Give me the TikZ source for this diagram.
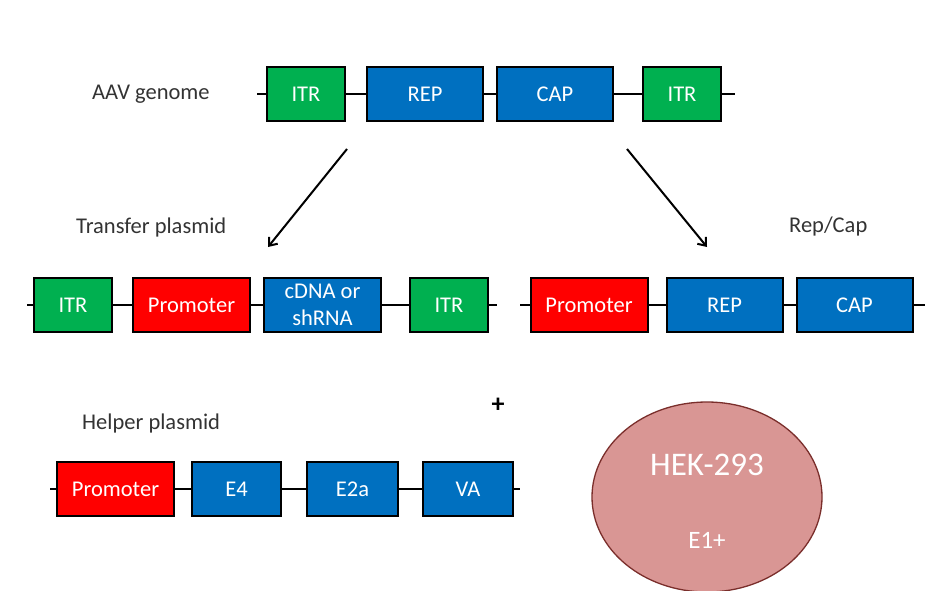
\documentclass[tikz,border=0pt]{standalone}
\usepackage{fontspec}
\setmainfont{Carlito}
\usetikzlibrary{positioning,shapes.geometric,arrows.meta}

\definecolor{itrgreen}{HTML}{00B050}
\definecolor{geneblue}{HTML}{0070C0}
\definecolor{promred}{HTML}{FF0000}
\definecolor{cellpink}{HTML}{D99694}
\definecolor{cellrim}{HTML}{7A2E2B}

\tikzset{
	genebox/.style={draw=black, line width=2pt, minimum height=54pt,
		inner sep=0pt, outer sep=0pt, text=white, align=center,
		font=\fontsize{22.5}{27}\selectfont},
	itrbox/.style={genebox, fill=itrgreen, minimum width=78pt},
	bluebox/.style={genebox, fill=geneblue, minimum width=116pt},
	prombox/.style={genebox, fill=promred, minimum width=117pt},
	backbone/.style={line width=2.2pt},
	title/.style={anchor=west, text=black!80, inner sep=0pt,
		font=\fontsize{22.5}{26}\selectfont}
}

\begin{document}
\begin{tikzpicture}[x=1pt,y=-1pt,>={Straight Barb[length=7pt,width=11pt]}]
		\useasboundingbox (0,0) rectangle (932,591);

		% AAV genome
		\node[title] (aavlabel) at (92,94) {AAV genome};
		\node[itrbox] (itrA) at (306,94) {ITR};
		\node[bluebox, right=22pt of itrA] (repA) {REP};
		\node[bluebox, right=14pt of repA] (capA) {CAP};
		\node[itrbox, right=30pt of capA] (itrB) {ITR};
		\coordinate (aavstart) at (257,94);
		\coordinate (aavend) at (735,94);
		\draw[backbone] (aavstart) -- (itrA) -- (repA) -- (capA) -- (itrB) -- (aavend);

		% arrows
		\coordinate (arrLfrom) at (347,149);
		\coordinate (arrLto) at (268,247);
		\coordinate (arrRfrom) at (627,149);
		\coordinate (arrRto) at (707,247);
		\draw[->, line width=2pt] (arrLfrom) -- (arrLto);
		\draw[->, line width=2pt] (arrRfrom) -- (arrRto);

		% transfer plasmid
		\node[title] (translabel) at (76,228) {Transfer plasmid};
		\node[itrbox] (itrC) at (73,305) {ITR};
		\node[prombox, right=21pt of itrC] (promC) {Promoter};
		\node[bluebox, minimum width=117pt, right=14pt of promC] (cdna) {cDNA or\\shRNA};
		\node[itrbox, right=29pt of cdna] (itrD) {ITR};
		\coordinate (transstart) at (27,305);
		\coordinate (transend) at (497,305);
		\draw[backbone] (transstart) -- (itrC) -- (promC) -- (cdna) -- (itrD) -- (transend);

		% rep/cap plasmid
		\node[title] (replabel) at (789,227) {Rep/Cap};
		\node[prombox] (promR) at (589,305) {Promoter};
		\node[bluebox, right=19pt of promR] (repR) {REP};
		\node[bluebox, right=14pt of repR] (capR) {CAP};
		\coordinate (repstart) at (520,305);
		\coordinate (repend) at (925,305);
		\draw[backbone] (repstart) -- (promR) -- (repR) -- (capR) -- (repend);

		% helper plasmid
		\node[title] (helplabel) at (82,423) {Helper plasmid};
		\node[prombox] (promH) at (115.5,489) {Promoter};
		\node[bluebox, minimum width=89pt, right=18pt of promH] (efour) {E4};
		\node[bluebox, minimum width=91pt, right=26pt of efour] (etwoa) {E2a};
		\node[bluebox, minimum width=90pt, right=25pt of etwoa] (va) {VA};
		\coordinate (helpstart) at (50,489);
		\coordinate (helpend) at (520,489);
		\draw[backbone] (helpstart) -- (promH) -- (efour) -- (etwoa) -- (va) -- (helpend);

		\node[inner sep=0pt, font=\fontsize{26}{26}\selectfont\bfseries] (plus) at (498,405) {+};

		% producer cell
		\node[ellipse, draw=cellrim, line width=1.3pt, fill=cellpink,
			minimum width=230pt, minimum height=190pt] (hek) at (707,497) {};
		\node[text=white, inner sep=0pt, font=\fontsize{33}{33}\selectfont]
			(hekname) at ([yshift=32pt]hek.center) {HEK-293};
		\node[text=white, inner sep=0pt, font=\fontsize{25}{25}\selectfont]
			(eone) at ([yshift=-43pt]hek.center) {E1+};
	\end{tikzpicture}
\end{document}
